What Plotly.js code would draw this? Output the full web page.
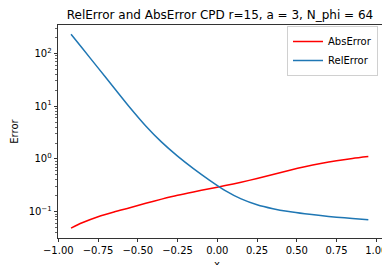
<!DOCTYPE html>
<html>
<head>
<meta charset="utf-8">
<script src="https://cdn.plot.ly/plotly-3.0.1.min.js"></script>
<style>html,body{margin:0;padding:0;background:#fff;}#chart{width:382px;height:265px;}</style>
</head>
<body>
<div id="chart"></div>
<script>
var xValues = [-0.92, -0.85, -0.75, -0.65, -0.55, -0.45, -0.35, -0.25, -0.15, -0.05, 0.05, 0.15, 0.25, 0.35, 0.45, 0.55, 0.65, 0.75, 0.85, 0.95];
var absError = [0.0490, 0.0618, 0.0805, 0.0991, 0.119, 0.1445, 0.173, 0.2046, 0.237, 0.272, 0.313, 0.362, 0.4256, 0.507, 0.604, 0.710, 0.818, 0.923, 1.019, 1.107];
var relError = [230, 125.6, 53.0, 22.3, 9.42, 4.21, 2.08, 1.13, 0.656, 0.398, 0.251, 0.175, 0.1355, 0.114, 0.1005, 0.0912, 0.0843, 0.0789, 0.0743, 0.0703];
var xTickVals = [-1.0, -0.75, -0.5, -0.25, 0.0, 0.25, 0.5, 0.75, 1.0];
var yTickVals = [0.1, 1, 10, 100];
var yTickText = ['10<sup>\u22121</sup>', '10<sup>0</sup>', '10<sup>1</sup>', '10<sup>2</sup>'];
var chartTitle = 'RelError and AbsError CPD r=15, a = 3, N_phi = 64';
var xTitle = 'x';
var yTitle = 'Error';

var yMinorVals = [];
[0.01, 0.1, 1, 10, 100].forEach(function (d) {
  for (var k = 2; k <= 9; k++) yMinorVals.push(k * d);
});

var font = {family: 'DejaVu Sans', size: 10, color: '#000'};
var data = [
  {x: xValues, y: absError, name: 'AbsError', mode: 'lines', line: {color: '#ff0000', width: 1.5, shape: 'spline', smoothing: 0.8}},
  {x: xValues, y: relError, name: 'RelError', mode: 'lines', line: {color: '#1f77b4', width: 1.5, shape: 'spline', smoothing: 0.8}}
];
var layout = {
  width: 382, height: 265,
  margin: {l: 58, r: 0, t: 25, b: 27, pad: 0},
  paper_bgcolor: '#fff', plot_bgcolor: '#fff',
  font: font,
  showlegend: true,
  title: {text: chartTitle, font: {family: 'DejaVu Sans', size: 12, color: '#000'}, x: 0.5, xref: 'paper', xanchor: 'center', y: 1 - 15/265, yref: 'container', yanchor: 'middle'},
  xaxis: {
    range: [-1.002, 1.036], showgrid: false, zeroline: false,
    showline: true, linecolor: '#000', linewidth: 0.8, mirror: true,
    ticks: 'outside', ticklen: 3.5, tickwidth: 0.8, tickcolor: '#000',
    tickmode: 'array', tickvals: xTickVals, tickformat: '.2f',
    ticklabeloverflow: 'allow',
    tickfont: font
  },
  yaxis: {
    type: 'log', range: [-1.498, 2.536], showgrid: false, zeroline: false,
    showline: true, linecolor: '#000', linewidth: 0.8, mirror: true,
    ticks: 'outside', ticklen: 3.5, tickwidth: 0.8, tickcolor: '#000',
    tickmode: 'array', tickvals: yTickVals, ticktext: yTickText,
    tickfont: font,
    minor: {tickmode: 'array', tickvals: yMinorVals, ticks: 'outside', ticklen: 2, tickwidth: 0.6, tickcolor: '#000', showgrid: false},
    title: {text: yTitle, font: font, standoff: 8}
  },
  annotations: [
    {text: xTitle, xref: 'paper', yref: 'paper', x: (217.3 - 58) / 324, y: -(256.5 - 238) / 213,
     xanchor: 'center', yanchor: 'top', showarrow: false, font: font}
  ],
  legend: {
    x: (378 - 58) / 324, y: 1 - 1 / 213, xanchor: 'right', yanchor: 'top',
    bgcolor: 'rgba(255,255,255,0.8)', bordercolor: '#d0d0d0', borderwidth: 1,
    font: font, tracegroupgap: 0, itemwidth: 30
  }
};
Plotly.newPlot('chart', data, layout, {staticPlot: true, displayModeBar: false});
</script>
</body>
</html>
